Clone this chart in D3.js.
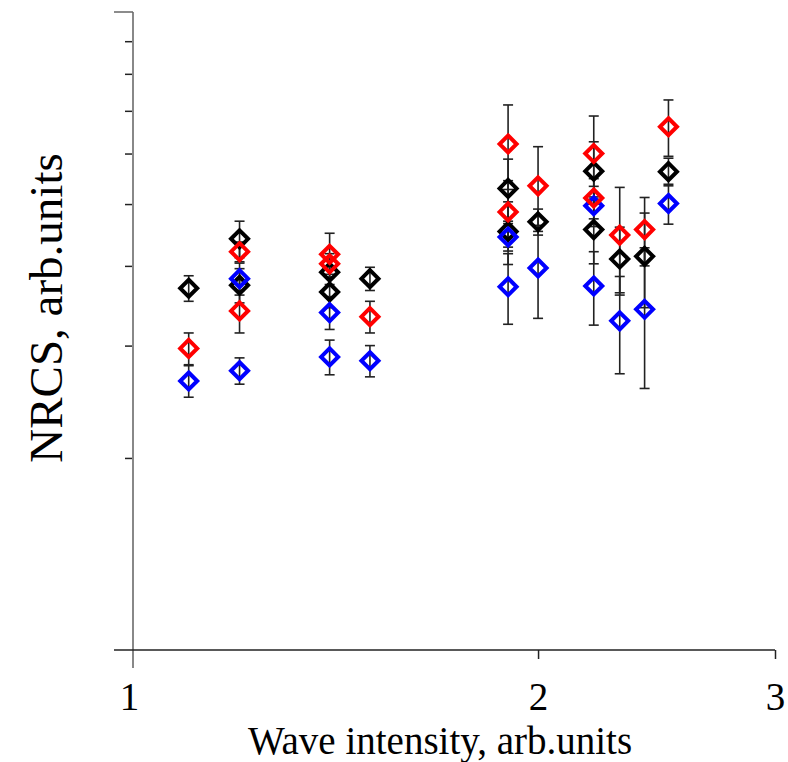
<!DOCTYPE html>
<html>
<head>
<meta charset="utf-8">
<script src="https://cdn.jsdelivr.net/npm/d3@7"></script>
<style>
  body { margin: 0; background: #fff; }
  text { font-family: "Liberation Serif", "Times New Roman", serif; fill: #000; }
</style>
</head>
<body>
<div id="chart"></div>
<script>
// Wave intensity (x) for each measurement
var blackX = [1.1, 1.2, 1.2, 1.4, 1.4, 1.5, 1.9, 1.9, 2.0, 2.2, 2.2, 2.3, 2.4, 2.5];
var blackY = [3.69, 4.41, 3.73, 3.91, 3.64, 3.82, 5.29, 4.53, 4.69, 5.63, 4.56, 4.10, 4.14, 5.62];
var blackErr = [0.17, 0.29, 0.23, 0.17, 0.20, 0.16, 0.59, 0.51, 0.22, 0.63, 0.53, 0.50, 0.70, 0.28];

var redX = [1.1, 1.2, 1.2, 1.4, 1.4, 1.5, 1.9, 1.9, 2.0, 2.2, 2.2, 2.3, 2.4, 2.5];
var redY = [2.97, 4.21, 3.40, 4.17, 4.03, 3.33, 6.21, 4.86, 5.34, 6.00, 5.11, 4.47, 4.56, 6.61];
var redErr = [0.17, 0.15, 0.26, 0.33, 0.15, 0.19, 0.94, 0.58, 0.81, 0.87, 0.37, 0.84, 0.56, 0.67];

var blueX = [1.1, 1.2, 1.2, 1.4, 1.4, 1.5, 1.9, 1.9, 2.0, 2.2, 2.2, 2.3, 2.4, 2.5];
var blueY = [2.64, 3.82, 2.74, 3.38, 2.88, 2.84, 4.44, 3.71, 3.97, 4.97, 3.72, 3.28, 3.42, 5.01];
var blueErr = [0.15, 0.22, 0.13, 0.20, 0.18, 0.16, 0.22, 0.47, 0.66, 0.36, 0.49, 0.57, 0.85, 0.36];

var xTicks = [1, 2, 3];
var yTicks = [1, 2, 3, 4, 5, 6, 7, 8, 9, 10];

var svgWidth = 788;
var svgHeight = 762;

var margin = { top: 12, right: 13, bottom: 112, left: 133 };
var width = svgWidth - margin.left - margin.right;
var height = svgHeight - margin.top - margin.bottom;

var svg = d3.select("#chart")
  .append("svg")
  .attr("width", svgWidth)
  .attr("height", svgHeight);

var chartGroup = svg.append("g")
  .attr("transform", `translate(${margin.left}, ${margin.top})`);

var xScale = d3.scaleLog().domain([1, 3]).range([0, width]);
var yScale = d3.scaleLog().domain([1, 10]).range([height, 0]);

// y axis: grey spine, short minor ticks, long ticks at the ends
var leftAxis = d3.axisLeft(yScale)
  .tickValues(yTicks.filter(d => d > 1 && d < 10))
  .tickSize(8)
  .tickSizeOuter(0)
  .tickFormat("");

var yAxisG = chartGroup.append("g").call(leftAxis);
yAxisG.select(".domain").remove();
yAxisG.selectAll(".tick line").attr("stroke", "#222").attr("stroke-width", 1.5);

chartGroup.append("line")
  .attr("x1", 0).attr("x2", 0)
  .attr("y1", yScale(10)).attr("y2", height + 18)
  .attr("stroke", "#888").attr("stroke-width", 2);

chartGroup.append("line")
  .attr("x1", -19).attr("x2", 0)
  .attr("y1", yScale(10)).attr("y2", yScale(10))
  .attr("stroke", "#666").attr("stroke-width", 1.5);

// x axis
var bottomAxis = d3.axisBottom(xScale)
  .tickValues(xTicks)
  .tickSize(9)
  .tickSizeOuter(0)
  .tickFormat(d3.format("d"));

var xAxisG = chartGroup.append("g")
  .attr("transform", `translate(0, ${height})`)
  .call(bottomAxis);
xAxisG.select(".domain").remove();
xAxisG.selectAll(".tick line")
  .attr("stroke", "#222")
  .attr("stroke-width", 1.5)
  .attr("opacity", d => d === 1 ? 0 : 1);
xAxisG.selectAll(".tick text")
  .attr("y", 60)
  .attr("dy", null)
  .attr("x", d => d === 1 ? -4 : 0)
  .style("font-family", "'Liberation Serif', serif")
  .style("font-size", "39px")
  .attr("fill", "#000");

chartGroup.append("line")
  .attr("x1", -19).attr("x2", width)
  .attr("y1", height).attr("y2", height)
  .attr("stroke", "#222").attr("stroke-width", 1.5);

// data series, drawn black first, then blue, then red
var series = [
  { x: blackX, y: blackY, err: blackErr, color: "#000000" },
  { x: blueX, y: blueY, err: blueErr, color: "#0000ff" },
  { x: redX, y: redY, err: redErr, color: "#ff0000" }
];

var allPoints = [];
series.forEach(function(s) {
  s.x.forEach(function(xv, i) {
    allPoints.push({ x: xv, y: s.y[i], err: s.err[i], color: s.color });
  });
});

// error bars
var errGroup = chartGroup.append("g");
var capW = 5;
allPoints.forEach(function(p) {
  var cx = xScale(p.x);
  var yTop = yScale(p.y + p.err);
  var yBot = yScale(p.y - p.err);
  errGroup.append("line")
    .attr("x1", cx).attr("x2", cx)
    .attr("y1", yTop).attr("y2", yBot)
    .attr("stroke", "#222").attr("stroke-width", 1.6);
  [yTop, yBot].forEach(function(yy) {
    errGroup.append("line")
      .attr("x1", cx - capW).attr("x2", cx + capW)
      .attr("y1", yy).attr("y2", yy)
      .attr("stroke", "#222").attr("stroke-width", 1.6);
  });
});

// open diamond markers
var r = 8.5;
var diamond = `M0,${-r}L${r},0L0,${r}L${-r},0Z`;
chartGroup.selectAll(".marker")
  .data(allPoints)
  .enter()
  .append("path")
  .attr("class", "marker")
  .attr("d", diamond)
  .attr("transform", d => `translate(${xScale(d.x)}, ${yScale(d.y)})`)
  .attr("fill", "none")
  .attr("stroke", d => d.color)
  .attr("stroke-width", 4);

// axis titles
svg.append("text")
  .attr("x", 440)
  .attr("y", 754)
  .attr("text-anchor", "middle")
  .style("font-size", "39px")
  .text("Wave intensity, arb.units");

svg.append("text")
  .attr("transform", "rotate(-90)")
  .attr("x", -308)
  .attr("y", 62)
  .attr("text-anchor", "middle")
  .style("font-size", "47px")
  .text("NRCS, arb.units");
</script>
</body>
</html>
